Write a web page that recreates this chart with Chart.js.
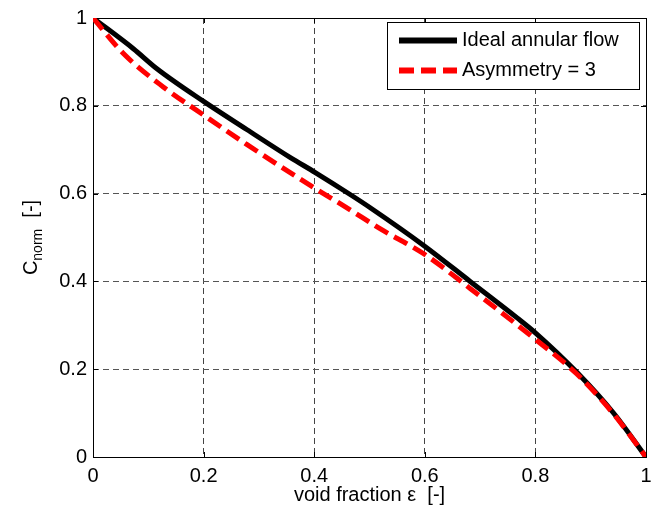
<!DOCTYPE html>
<html>
<head>
<meta charset="utf-8">
<script src="https://cdn.jsdelivr.net/npm/chart.js@4.4.1/dist/chart.umd.min.js"></script>
<style>
html,body{margin:0;padding:0;background:#fff;}
#wrap{width:666px;height:520px;}
</style>
</head>
<body>
<div id="wrap"><canvas id="c" width="666" height="520"></canvas></div>
<script>
const seriesNames = ["Ideal annular flow", "Asymmetry = 3"];
const xIdeal = [0, 0.073, 0.115, 0.2, 0.278, 0.357, 0.402, 0.465, 0.5, 0.598, 0.682, 0.767, 0.8, 0.875, 0.942, 1];
const yIdeal = [1, 0.93, 0.885, 0.81, 0.746, 0.682, 0.648, 0.598, 0.569, 0.482, 0.40, 0.317, 0.283, 0.193, 0.099, 0];
const xAsym = [0, 0.055, 0.127, 0.2, 0.278, 0.399, 0.465, 0.519, 0.598, 0.682, 0.8, 0.875, 0.942, 1];
const yAsym = [1, 0.919, 0.843, 0.779, 0.712, 0.614, 0.563, 0.52, 0.463, 0.384, 0.268, 0.189, 0.097, 0];
const xTicks = [0, 0.2, 0.4, 0.6, 0.8, 1];
const yTicks = [0, 0.2, 0.4, 0.6, 0.8, 1];
const xTitle = "void fraction \u03b5  [-]";
const yTitleMain = "C", yTitleSub = "norm", yTitleUnit = "  [-]";

const FONT = "'Liberation Sans', Arial, sans-serif";
const toPts = (xs, ys) => xs.map((x, i) => ({x: x, y: ys[i]}));

const framePlugin = {
  id: 'frame',
  beforeDatasetsDraw(chart) {
    const {ctx, chartArea: a, scales} = chart;
    ctx.save();
    ctx.strokeStyle = '#000';
    ctx.lineWidth = 1;
    ctx.beginPath();
    xTicks.forEach(v => {
      const px = Math.round(scales.x.getPixelForValue(v)) + 0.5;
      ctx.moveTo(px, a.bottom); ctx.lineTo(px, a.bottom - 5);
      ctx.moveTo(px, a.top); ctx.lineTo(px, a.top + 5);
    });
    yTicks.forEach(v => {
      const py = Math.round(scales.y.getPixelForValue(v)) + 0.5;
      ctx.moveTo(a.left, py); ctx.lineTo(a.left + 5, py);
      ctx.moveTo(a.right, py); ctx.lineTo(a.right - 5, py);
    });
    ctx.stroke();
    ctx.strokeRect(Math.round(a.left) + 0.5, Math.round(a.top) + 0.5, Math.round(a.right - a.left), Math.round(a.bottom - a.top));
    ctx.restore();
  },
  afterDraw(chart) {
    const {ctx, chartArea: a} = chart;
    ctx.save();
    ctx.fillStyle = '#000';
    ctx.font = '20px ' + FONT;
    ctx.textAlign = 'center';
    ctx.textBaseline = 'middle';
    ctx.fillText(xTitle, (a.left + a.right) / 2, 495);
    ctx.translate(30, (a.top + a.bottom) / 2);
    ctx.rotate(-Math.PI / 2);
    ctx.textAlign = 'left';
    ctx.textBaseline = 'alphabetic';
    ctx.font = '20px ' + FONT;
    const wC = ctx.measureText(yTitleMain).width;
    ctx.font = '14px ' + FONT;
    const wS = ctx.measureText(yTitleSub).width;
    ctx.font = '20px ' + FONT;
    const wU = ctx.measureText(yTitleUnit).width;
    const total = wC + wS + wU;
    let x0 = -total / 2;
    ctx.font = '20px ' + FONT;
    ctx.fillText(yTitleMain, x0, 7);
    ctx.font = '14px ' + FONT;
    ctx.fillText(yTitleSub, x0 + wC, 12);
    ctx.font = '20px ' + FONT;
    ctx.fillText(yTitleUnit, x0 + wC + wS, 7);
    ctx.restore();

    ctx.save();
    const lx = 387.5, ly = 22.5, lw = 252, lh = 67;
    ctx.fillStyle = '#fff';
    ctx.fillRect(lx, ly, lw, lh);
    ctx.strokeStyle = '#000';
    ctx.lineWidth = 1;
    ctx.strokeRect(lx, ly, lw, lh);
    ctx.font = '20px ' + FONT;
    ctx.textBaseline = 'middle';
    ctx.fillStyle = '#000';
    chart.data.datasets.forEach((ds, i) => {
      const yy = ly + 18 + i * 30;
      ctx.beginPath();
      ctx.strokeStyle = ds.borderColor;
      ctx.lineWidth = 6;
      ctx.setLineDash(ds.borderDash || []);
      ctx.moveTo(399, yy);
      ctx.lineTo(457, yy);
      ctx.stroke();
      ctx.setLineDash([]);
      ctx.fillText(ds.label, 462, yy);
    });
    ctx.restore();
  }
};

new Chart(document.getElementById('c'), {
  type: 'line',
  data: {
    datasets: [
      {label: seriesNames[0], data: toPts(xIdeal, yIdeal), borderColor: '#000000', borderWidth: 5, pointRadius: 0, cubicInterpolationMode: 'monotone', fill: false, order: 1},
      {label: seriesNames[1], data: toPts(xAsym, yAsym), borderColor: '#ff0000', borderWidth: 5, borderDash: [15, 7], pointRadius: 0, cubicInterpolationMode: 'monotone', fill: false, order: 0}
    ]
  },
  options: {
    responsive: false,
    animation: false,
    devicePixelRatio: 1,
    layout: {padding: {top: 14, right: 20, left: 0, bottom: 0}},
    plugins: {legend: {display: false}, tooltip: {enabled: false}},
    scales: {
      x: {
        type: 'linear', min: 0, max: 1,
        afterFit(s) { s.height = 63; },
        afterBuildTicks(s) { s.ticks = xTicks.map(v => ({value: v})); },
        grid: {color: (c) => (c.tick && (c.tick.value === 0 || c.tick.value === 1)) ? 'rgba(0,0,0,0)' : '#444', lineWidth: 1, drawTicks: false},
        border: {display: false, dash: [6, 4]},
        ticks: {color: '#000', font: {size: 20, family: FONT}, padding: 7, maxRotation: 0, callback: v => String(v)}
      },
      y: {
        type: 'linear', min: 0, max: 1,
        afterFit(s) { s.width = 93; },
        afterBuildTicks(s) { s.ticks = yTicks.map(v => ({value: v})); },
        grid: {color: (c) => (c.tick && (c.tick.value === 0 || c.tick.value === 1)) ? 'rgba(0,0,0,0)' : '#555', lineWidth: 1, drawTicks: false},
        border: {display: false, dash: [6, 4]},
        ticks: {color: '#000', font: {size: 20, family: FONT}, padding: 6, callback: v => String(v)}
      }
    }
  },
  plugins: [framePlugin]
});
</script>
</body>
</html>
